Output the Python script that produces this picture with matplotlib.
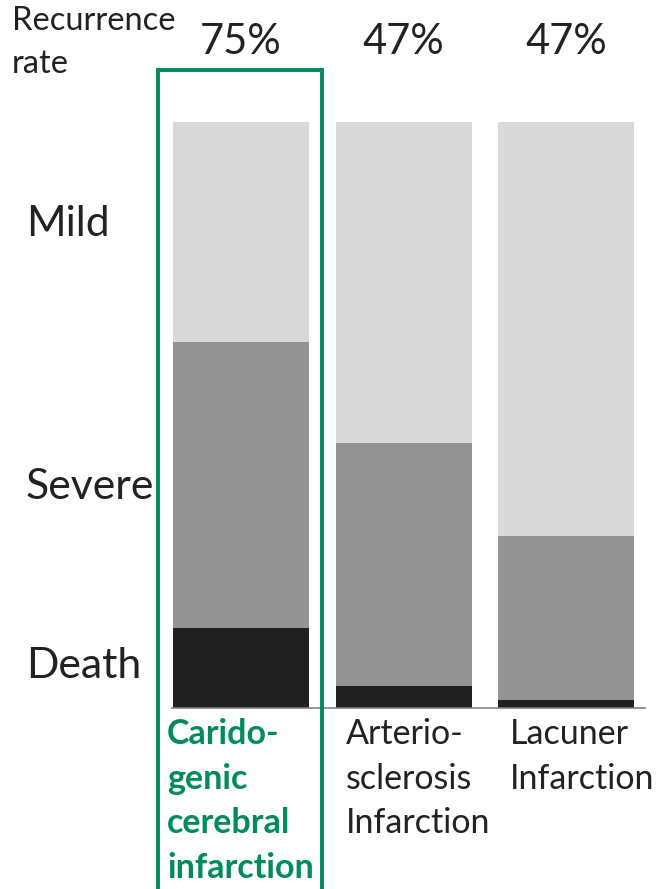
import matplotlib

matplotlib.use("Agg")
import matplotlib.pyplot as plt
from matplotlib.lines import Line2D

plt.rcParams["font.family"] = ["Lato", "DejaVu Sans"]

# data (percent of patients)
categories = ["Carido-\ngenic\ncerebral\ninfarction", "Arterio-\nsclerosis\nInfarction", "Lacuner\nInfarction"]
death = [13.7, 3.8, 1.4]
severe = [48.8, 41.5, 28.0]
mild = [37.5, 54.7, 70.6]
recurrence = ["75%", "47%", "47%"]
levels = ["Mild", "Severe", "Death"]

W, H = 657, 889
GREEN = "#008B5E"
TXT = "#222222"


def fx(px):
    return px / W


def fy(py):
    return 1 - py / H


fig = plt.figure(figsize=(W / 100, H / 100), dpi=100)
fig.patch.set_facecolor("white")

# axes: x from pixel 172 to 645, y from 708 (0 %) to 122 (100 %)
ax = fig.add_axes([fx(172), fy(708), (645 - 172) / W, (708 - 122) / H])
x = [0, 1, 2]
bw = 0.837
ax.bar(x, death, bw, color="#202020")
ax.bar(x, severe, bw, bottom=death, color="#939393")
bottoms = [d + s for d, s in zip(death, severe)]
ax.bar(x, mild, bw, bottom=bottoms, color="#D9D9D9")
ax.set_xlim(-0.425, 2.486)
ax.set_ylim(0, 100)
ax.set_xticks([])
ax.set_yticks([])
for s in ["top", "left", "right"]:
    ax.spines[s].set_visible(False)
ax.spines["bottom"].set_color("#808080")
ax.spines["bottom"].set_linewidth(1.2)

# recurrence rates above the bars
for xi, r in zip(x, recurrence):
    ax.text(xi, 1.0 + 68 / 586, r, transform=ax.get_xaxis_transform(), ha="center",
            va="baseline", fontsize=30, color=TXT)

fig.text(fx(12), fy(30), "Recurrence", fontsize=23.5, color=TXT, va="baseline")
fig.text(fx(12), fy(73), "rate", fontsize=23.5, color=TXT, va="baseline")

# severity labels on the left
for lab, py in zip(levels, [236, 499, 678]):
    fig.text(fx(26), fy(py), lab, fontsize=30.8, color=TXT, va="baseline")

# category labels under the bars, one line at a time
label_x = [167, 346, 510]
for i, (cat, px) in enumerate(zip(categories, label_x)):
    bold = i == 0
    for k, line in enumerate(cat.split("\n")):
        fig.text(fx(px), fy(744 + 44.7 * k), line, fontsize=24.5, va="baseline", ha="left",
                 color=GREEN if bold else TXT, fontweight="bold" if bold else "normal")

# green highlight frame
fig.add_artist(Line2D([fx(158), fx(158), fx(322), fx(322)],
                      [fy(895), fy(70), fy(70), fy(895)],
                      transform=fig.transFigure, color=GREEN, linewidth=2.8,
                      solid_joinstyle="miter"))

fig.savefig("out.png", dpi=100)
